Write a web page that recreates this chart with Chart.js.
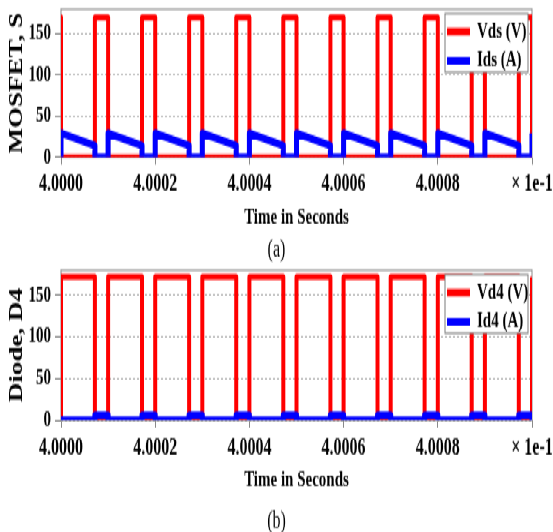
<!DOCTYPE html>
<html>
<head>
<meta charset="utf-8">
<title>MOSFET and diode waveforms</title>
<script src="https://cdn.jsdelivr.net/npm/chart.js@4.4.1/dist/chart.umd.min.js"></script>
<style>
  html, body { margin: 0; padding: 0; background: #fff; overflow: hidden; }
  /* the source figure is stretched vertically, so the charts are drawn flat and scaled up */
  #wrap { position: absolute; left: 0; top: 0; width: 553px; height: 355px; transform: scale(1, 1.5); transform-origin: 0 0; }
  canvas { display: block; }
</style>
</head>
<body>
<div id="wrap">
  <canvas id="chartA" width="553" height="176"></canvas>
  <canvas id="chartB" width="553" height="179"></canvas>
</div>
<script>
// Time is in units of 1e-1 s (the axis says "x 1e-1")
const periodStart = [4.0000, 4.0001, 4.0002, 4.0003, 4.0004, 4.0005, 4.0006, 4.0007, 4.0008, 4.0009, 4.0010];
const switchOff = [4.000072, 4.000172, 4.000272, 4.000372, 4.000472, 4.000572, 4.000672, 4.000772, 4.000872, 4.000972];

// levels
const vdsHigh = 170;   // MOSFET voltage when off (V)
const idsStart = 29;   // MOSFET current at turn-on (A)
const idsEnd = 14;     // MOSFET current just before turn-off (A)
const vd4High = 172;   // diode reverse voltage (V)
const id4Level = 6;    // diode current while conducting (A)

const xTicks = [4.0000, 4.0002, 4.0004, 4.0006, 4.0008, 4.0010];
const yTicks = [0, 50, 100, 150];

const FONT = '"Liberation Serif", "Times New Roman", serif';

// Build the switching waveforms from the edge times
function vdsPoints() {
    var pts = [{x: periodStart[0], y: vdsHigh}, {x: periodStart[0], y: 0}];
    for (var i = 0; i < switchOff.length; i++) {
        pts.push({x: switchOff[i], y: 0}, {x: switchOff[i], y: vdsHigh});
        pts.push({x: periodStart[i + 1], y: vdsHigh}, {x: periodStart[i + 1], y: 0});
    }
    return pts;
}

function idsPoints() {
    var pts = [{x: periodStart[0], y: 0}];
    for (var i = 0; i < switchOff.length; i++) {
        pts.push({x: periodStart[i], y: idsStart}, {x: switchOff[i], y: idsEnd});
        pts.push({x: switchOff[i], y: 0}, {x: periodStart[i + 1], y: 0});
    }
    pts.push({x: periodStart[periodStart.length - 1], y: idsStart});
    return pts;
}

function vd4Points() {
    var pts = [{x: periodStart[0], y: 0}];
    for (var i = 0; i < switchOff.length; i++) {
        pts.push({x: periodStart[i], y: vd4High}, {x: switchOff[i], y: vd4High});
        pts.push({x: switchOff[i], y: 0}, {x: periodStart[i + 1], y: 0});
    }
    pts.push({x: periodStart[periodStart.length - 1], y: vd4High});
    return pts;
}

function id4Points() {
    var pts = [];
    for (var i = 0; i < switchOff.length; i++) {
        pts.push({x: periodStart[i], y: 0}, {x: switchOff[i], y: 0});
        pts.push({x: switchOff[i], y: id4Level}, {x: periodStart[i + 1], y: id4Level}, {x: periodStart[i + 1], y: 0});
    }
    return pts;
}

function makeChart(canvasId, yTitle, caption, captionY, padTop, padBottom, datasets) {
    // grey box round the plot area
    var framePlugin = {
        id: 'frame',
        beforeDatasetsDraw: function(chart) {
            var a = chart.chartArea, ctx = chart.ctx;
            ctx.save();
            ctx.strokeStyle = '#8a8a8a';
            ctx.lineWidth = 1;
            ctx.strokeRect(a.left, a.top, a.right - a.left, a.bottom - a.top);
            ctx.restore();
        }
    };

    // boxed legend in the top right corner of the plot
    var legendPlugin = {
        id: 'boxLegend',
        afterDraw: function(chart) {
            var a = chart.chartArea, ctx = chart.ctx;
            var w = 83, h = 39;
            var x = a.right - 4 - w, y = a.top + 3;
            ctx.save();
            ctx.fillStyle = '#fff';
            ctx.fillRect(x, y, w, h);
            ctx.strokeStyle = '#7a7a7a';
            ctx.lineWidth = 1;
            ctx.strokeRect(x, y, w, h);
            chart.data.datasets.forEach(function(ds, i) {
                var cy = y + 12 + i * 19.5;
                ctx.strokeStyle = ds.borderColor;
                ctx.lineWidth = 5;
                ctx.beginPath();
                ctx.moveTo(x + 2, cy);
                ctx.lineTo(x + 25, cy);
                ctx.stroke();
                ctx.fillStyle = '#000';
                ctx.font = 'bold 15px ' + FONT;
                ctx.textBaseline = 'middle';
                ctx.textAlign = 'left';
                ctx.fillText(ds.label, x + 32, cy);
            });
            ctx.restore();
        }
    };

    // (a) / (b) under the chart
    var captionPlugin = {
        id: 'caption',
        afterDraw: function(chart) {
            var ctx = chart.ctx;
            ctx.save();
            ctx.fillStyle = '#000';
            ctx.font = '16px ' + FONT;
            ctx.textAlign = 'center';
            ctx.textBaseline = 'middle';
            ctx.fillText(caption, chart.width / 2, captionY);
            ctx.restore();
        }
    };

    return new Chart(document.getElementById(canvasId), {
        type: 'line',
        data: { datasets: datasets },
        options: {
            responsive: false,
            animation: false,
            devicePixelRatio: 1,
            events: [],
            layout: { padding: { top: padTop, left: 0, right: 21, bottom: padBottom } },
            elements: {
                point: { radius: 0 },
                line: { tension: 0, fill: false, borderJoinStyle: 'round' }
            },
            scales: {
                x: {
                    type: 'linear',
                    min: 4.0000,
                    max: 4.0010,
                    afterBuildTicks: function(s) { s.ticks = xTicks.map(function(v) { return {value: v}; }); },
                    afterFit: function(s) { s.height = 49; s.paddingLeft = 0; s.paddingRight = 0; },
                    grid: { drawOnChartArea: false, drawTicks: true, tickLength: 5, color: '#8a8a8a' },
                    border: { display: false },
                    ticks: {
                        autoSkip: false,
                        maxRotation: 0,
                        padding: 4,
                        color: '#000',
                        font: { family: FONT, size: 16, weight: 'bold' },
                        callback: function(v) { return Math.abs(v - 4.0010) < 1e-9 ? '\u00d7 1e-1' : v.toFixed(4); }
                    },
                    title: {
                        display: true,
                        text: 'Time in Seconds',
                        color: '#000',
                        font: { family: FONT, size: 15, weight: 'bold' },
                        padding: { top: 0, bottom: 0 }
                    }
                },
                y: {
                    min: 0,
                    max: 180,
                    afterBuildTicks: function(s) { s.ticks = yTicks.map(function(v) { return {value: v}; }); },
                    afterFit: function(s) { s.width = 61; s.paddingTop = 0; s.paddingBottom = 0; },
                    grid: { color: '#b4b4b4', tickColor: '#8a8a8a', tickLength: 6 },
                    border: { display: false, dash: [2, 2] },
                    ticks: {
                        padding: 4,
                        color: '#000',
                        font: { family: FONT, size: 15, weight: 'bold' }
                    },
                    title: {
                        display: true,
                        text: yTitle,
                        color: '#000',
                        font: { family: FONT, size: 18, weight: 'bold' },
                        padding: { top: 7, bottom: 0 }
                    }
                }
            },
            plugins: {
                legend: { display: false },
                tooltip: { enabled: false }
            }
        },
        plugins: [framePlugin, legendPlugin, captionPlugin]
    });
}

var chartA = makeChart('chartA', 'MOSFET, S', '(a)', 166.7, 6, 22.3, [
    { label: 'Vds (V)', data: vdsPoints(), borderColor: '#ff0000', borderWidth: 4, order: 1 },
    { label: 'Ids (A)', data: idsPoints(), borderColor: '#0000ff', borderWidth: 5, order: 0 }
]);

var chartB = makeChart('chartB', 'Diode, D4', '(b)', 172, 4, 26, [
    { label: 'Vd4 (V)', data: vd4Points(), borderColor: '#ff0000', borderWidth: 4, order: 1 },
    { label: 'Id4 (A)', data: id4Points(), borderColor: '#0000ff', borderWidth: 5, order: 0 }
]);
</script>
</body>
</html>
